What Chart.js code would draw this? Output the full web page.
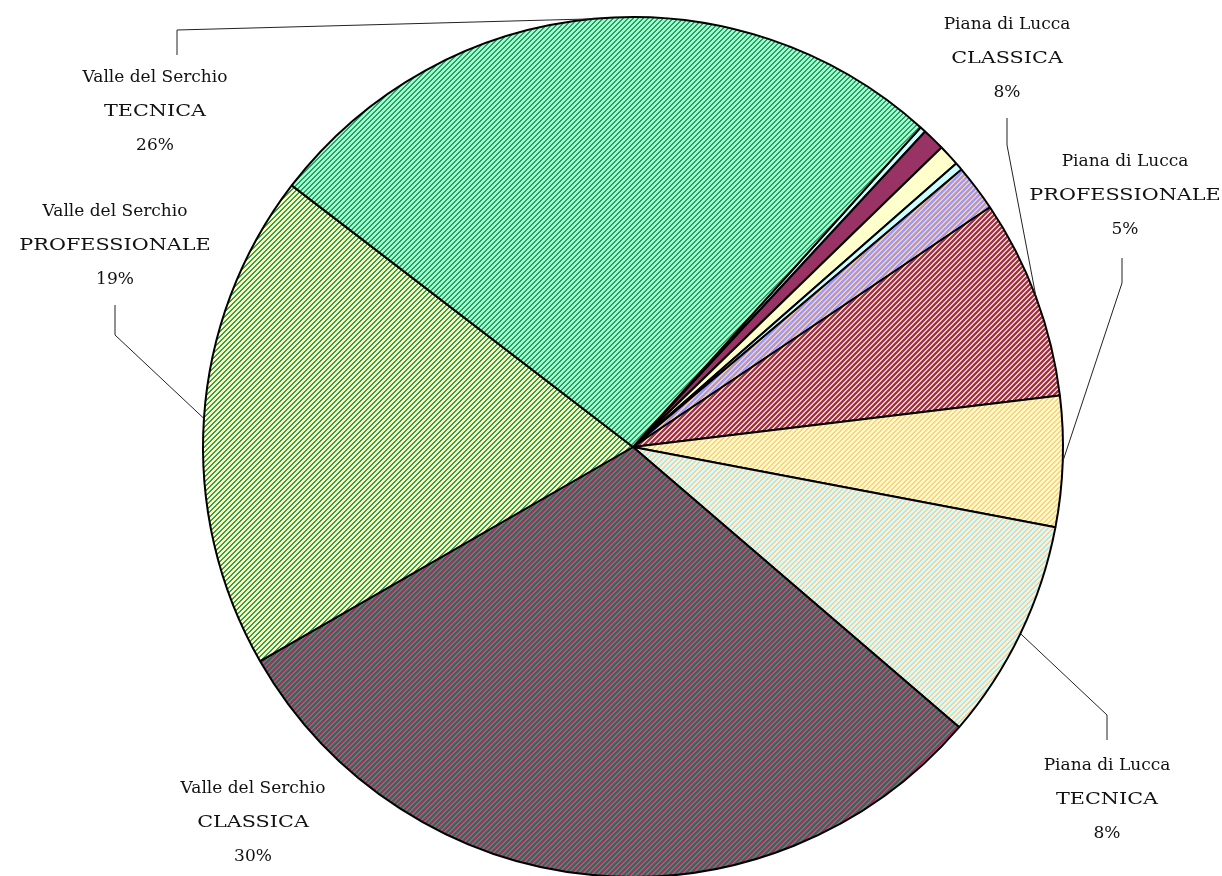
<!DOCTYPE html>
<html>
<head>
<meta charset="utf-8">
<script src="https://cdn.jsdelivr.net/npm/chart.js@4"></script>
<style>
  html, body { margin: 0; padding: 0; background: #fff; overflow: hidden; }
  #pie { display: block; }
</style>
</head>
<body>
<canvas id="pie" width="1222" height="900"></canvas>
<script>
// ---- data (clockwise from the thin slices at ~1 o'clock) ----
const zones = ['', '', '', '', '',
  'Piana di Lucca', 'Piana di Lucca', 'Piana di Lucca',
  'Valle del Serchio', 'Valle del Serchio', 'Valle del Serchio'];
const schools = ['', '', '', '', '',
  'CLASSICA', 'PROFESSIONALE', 'TECNICA',
  'CLASSICA', 'PROFESSIONALE', 'TECNICA'];
const shares = [0.22, 0.85, 0.8, 0.3, 1.75, 7.5, 4.9, 8.3, 30.4, 18.7, 26.25];
const pctLabels = ['', '', '', '', '', '8%', '5%', '8%', '30%', '19%', '26%'];

// ---- styles ----
const STRIPE = 5;
function stripe(bg, fg) {
  const c = document.createElement('canvas');
  c.width = c.height = STRIPE;
  const g = c.getContext('2d');
  for (let x = 0; x < STRIPE; x++) {
    for (let y = 0; y < STRIPE; y++) {
      g.fillStyle = ((x + y) % STRIPE) < 2 ? fg : bg;
      g.fillRect(x, y, 1, 1);
    }
  }
  return document.getElementById('pie').getContext('2d').createPattern(c, 'repeat');
}

const fills = [
  '#ccffff',
  '#993366',
  '#ffffcc',
  '#ccffff',
  stripe('#9999ff', '#ffcc99'),
  stripe('#993366', '#ffcc99'),
  stripe('#ffffbb', '#ffcc99'),
  stripe('#ccffff', '#ffcc99'),
  stripe('#993366', '#339966'),
  stripe('#ffffb0', '#339966'),
  stripe('#99ffcc', '#339966')
];

// label blocks: centre of first text line + leader elbow (x, start y, elbow y)
const labelLayout = {
  5:  { x: 1007, y: 25,  leg: [1007, 118, 145] },
  6:  { x: 1125, y: 162, leg: [1122, 258, 283] },
  7:  { x: 1107, y: 766, leg: [1107, 740, 715] },
  8:  { x: 253,  y: 789, leg: null },
  9:  { x: 115,  y: 212, leg: [115, 305, 335] },
  10: { x: 155,  y: 78,  leg: [177, 55, 30] }
};
const LINE_H = 34;
const CAPS_STRETCH = 1.22; // the original face has much wider capitals

const pieLabels = {
  id: 'pieLabels',
  afterDraw(chart) {
    const ctx = chart.ctx;
    const arcs = chart.getDatasetMeta(0).data;
    ctx.save();
    ctx.strokeStyle = '#222';
    ctx.lineWidth = 1;
    ctx.fillStyle = '#111';
    ctx.font = '17px "DejaVu Serif"';
    ctx.textAlign = 'center';
    ctx.textBaseline = 'middle';
    Object.keys(labelLayout).forEach(k => {
      const i = Number(k);
      const lay = labelLayout[k];
      const arc = arcs[i];
      if (lay.leg) {
        const mid = (arc.startAngle + arc.endAngle) / 2;
        const ex = arc.x + Math.cos(mid) * arc.outerRadius;
        const ey = arc.y + Math.sin(mid) * arc.outerRadius;
        ctx.beginPath();
        ctx.moveTo(lay.leg[0], lay.leg[1]);
        ctx.lineTo(lay.leg[0], lay.leg[2]);
        ctx.lineTo(ex, ey);
        ctx.stroke();
      }
      [zones[i], schools[i], pctLabels[i]].forEach((t, j) => {
        ctx.save();
        ctx.translate(lay.x, lay.y + j * LINE_H);
        if (j === 1) ctx.scale(CAPS_STRETCH, 1);
        ctx.fillText(t, 0, 0);
        ctx.restore();
      });
    });
    ctx.restore();
  }
};

new Chart(document.getElementById('pie'), {
  type: 'pie',
  data: {
    labels: zones.map((z, i) => (z + ' ' + schools[i]).trim()),
    datasets: [{
      data: shares,
      backgroundColor: fills,
      borderColor: '#000',
      borderWidth: 2
    }]
  },
  options: {
    responsive: false,
    animation: false,
    rotation: 42,
    layout: { padding: { left: 202, right: 158, top: 16, bottom: 22 } },
    plugins: {
      legend: { display: false },
      tooltip: { enabled: false }
    }
  },
  plugins: [pieLabels]
});
</script>
</body>
</html>
